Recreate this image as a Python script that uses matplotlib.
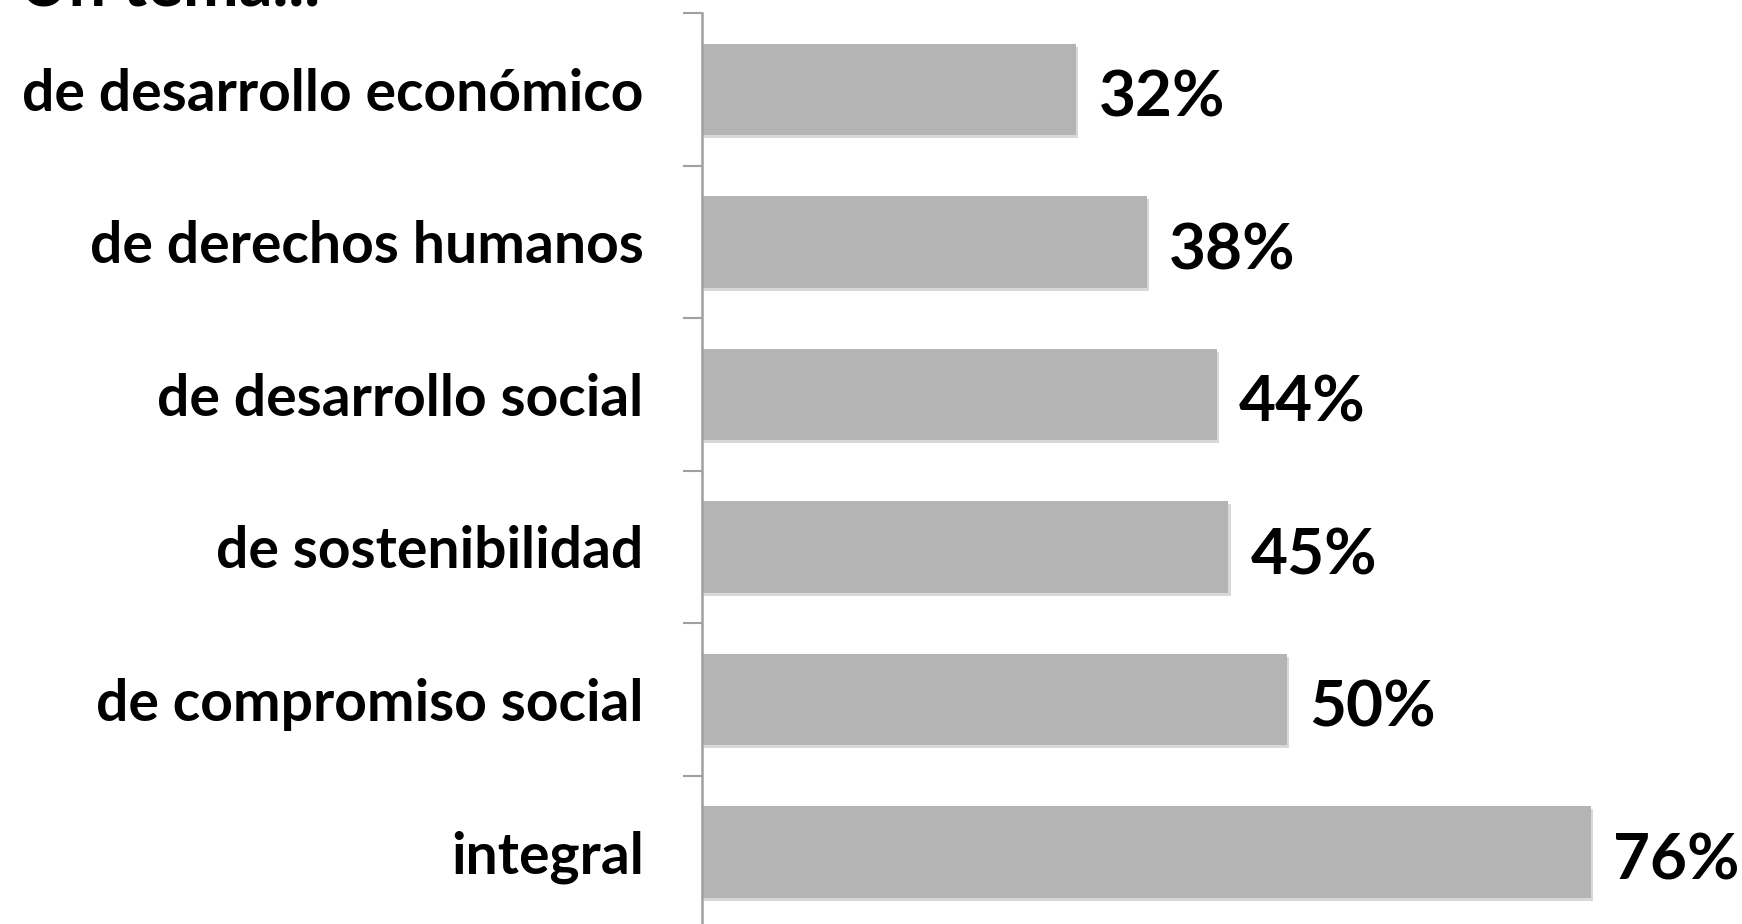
import numpy as np
import matplotlib.pyplot as plt
import matplotlib.patheffects as pe

categories = ['de desarrollo económico', 'de derechos humanos', 'de desarrollo social',
              'de sostenibilidad', 'de compromiso social', 'integral']
values = [32, 38, 44, 45, 50, 76]
title = 'Un tema...'

plt.rcParams['font.family'] = ['Lato', 'DejaVu Sans']

fig = plt.figure(figsize=(17.42, 9.24), dpi=100)
W, H = 1742, 924
ax = fig.add_axes([702 / W, -4 / H, 1040 / W, 915 / H])

y = np.arange(len(categories))
bars = ax.barh(y, values, height=0.6, color='#b4b4b4', zorder=2)
for b in bars:
    # soft drop shadow like the office chart
    b.set_path_effects([pe.SimplePatchShadow(offset=(1.5, -2.5), shadow_rgbFace='#909090', alpha=0.35),
                        pe.Normal()])

for yi, v in zip(y, values):
    ax.text(v + 1.9, yi + 0.06, f'{v}%', va='center', ha='left',
            fontsize=46, fontweight='bold', color='black')

ax.set_xlim(0, 88.9)
ax.set_ylim(len(categories) - 0.5, -0.5)

ax.set_yticks(y)
ax.set_yticklabels(categories, fontsize=41, fontweight='bold')
ax.tick_params(axis='y', which='major', length=0, pad=42)
ax.set_yticks(np.arange(-0.5, len(categories), 1.0), minor=True)
ax.tick_params(axis='y', which='minor', length=14, width=1.5, color='#a0a0a0', direction='out')
ax.set_xticks([])

for s in ['top', 'right', 'bottom']:
    ax.spines[s].set_visible(False)
ax.spines['left'].set_color('#a0a0a0')
ax.spines['left'].set_linewidth(1.8)

fig.text(19 / W, 1 - 6 / H, title, ha='left', va='baseline', fontsize=48, fontweight='bold')

fig.savefig('out.png', dpi=100)
